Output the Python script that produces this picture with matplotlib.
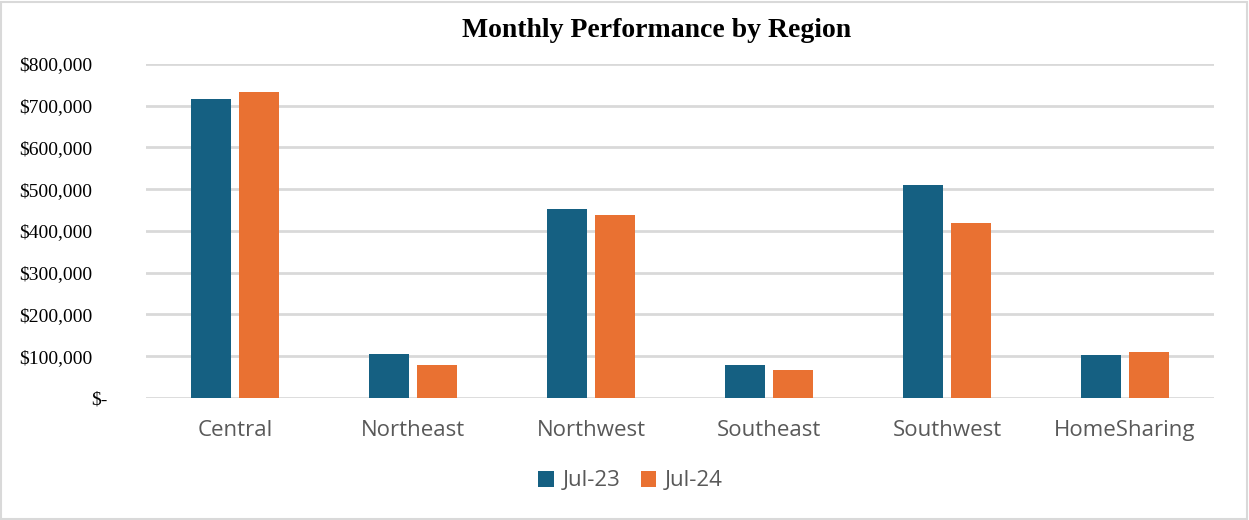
import matplotlib.pyplot as plt
import matplotlib.ticker as mt
import matplotlib.transforms as mtrans
from matplotlib.patches import Rectangle
import numpy as np

regions = ["Central", "Northeast", "Northwest", "Southeast", "Southwest", "HomeSharing"]
jul23 = [717000, 105000, 453000, 79000, 509000, 102000]
jul24 = [732000, 79000, 438000, 66000, 419000, 111000]
series_names = ["Jul-23", "Jul-24"]
yticks = [0, 100000, 200000, 300000, 400000, 500000, 600000, 700000, 800000]

blue = "#156082"
orange = "#E97132"
grid = "#D9D9D9"
serif = ["Liberation Serif", "DejaVu Serif"]
sans = ["Open Sans", "DejaVu Sans"]


def money(v, pos):
    # accounting style, zero shown as a dash
    if v == 0:
        return "$-"
    return "${:,.0f}".format(v)


fig = plt.figure(figsize=(12.49, 5.2), dpi=100)
ax = fig.add_axes([0.117, 0.2346, 0.855, 0.6424])

x = np.arange(len(regions))
w = 0.225
gap = 0.045
ax.bar(x - (w + gap) / 2, jul23, w, color=blue, label=series_names[0], zorder=3)
ax.bar(x + (w + gap) / 2, jul24, w, color=orange, label=series_names[1], zorder=3)

ax.set_xlim(-0.5, len(regions) - 0.5)
ax.set_ylim(0, 800000)
ax.set_yticks(yticks)
ax.yaxis.set_major_formatter(mt.FuncFormatter(money))
ax.set_xticks(x)
ax.set_xticklabels(regions, fontfamily=sans, fontsize=16, color="#595959")

ax.grid(axis="y", color=grid, linewidth=2, zorder=0)
ax.tick_params(axis="both", length=0)
ax.tick_params(axis="y", pad=39)
ax.tick_params(axis="x", pad=16)
for s in ax.spines.values():
    s.set_visible(False)

fig.canvas.draw()
shift = mtrans.ScaledTranslation(0.16, 0, fig.dpi_scale_trans)
for t in ax.get_yticklabels():
    t.set_fontfamily(serif)
    t.set_fontsize(14)
    t.set_color("#000000")
    if t.get_text() == "$-":
        t.set_transform(t.get_transform() + shift)

fig.suptitle("Monthly Performance by Region", x=0.526, y=0.965,
             fontfamily=serif, fontsize=20, fontweight="bold")

leg = fig.legend(loc="center", bbox_to_anchor=(0.505, 0.075), ncol=2, frameon=False,
                 prop={"family": sans, "size": 16}, handlelength=0.7, handleheight=0.7,
                 columnspacing=0.9, handletextpad=0.4)
for t in leg.get_texts():
    t.set_color("#595959")

# light frame round the chart
fig.patches.append(Rectangle((0.001, 0.002), 0.997, 0.995, transform=fig.transFigure,
                             fill=False, edgecolor="#D9D9D9", linewidth=1.5))

fig.savefig("out.png", dpi=100)
